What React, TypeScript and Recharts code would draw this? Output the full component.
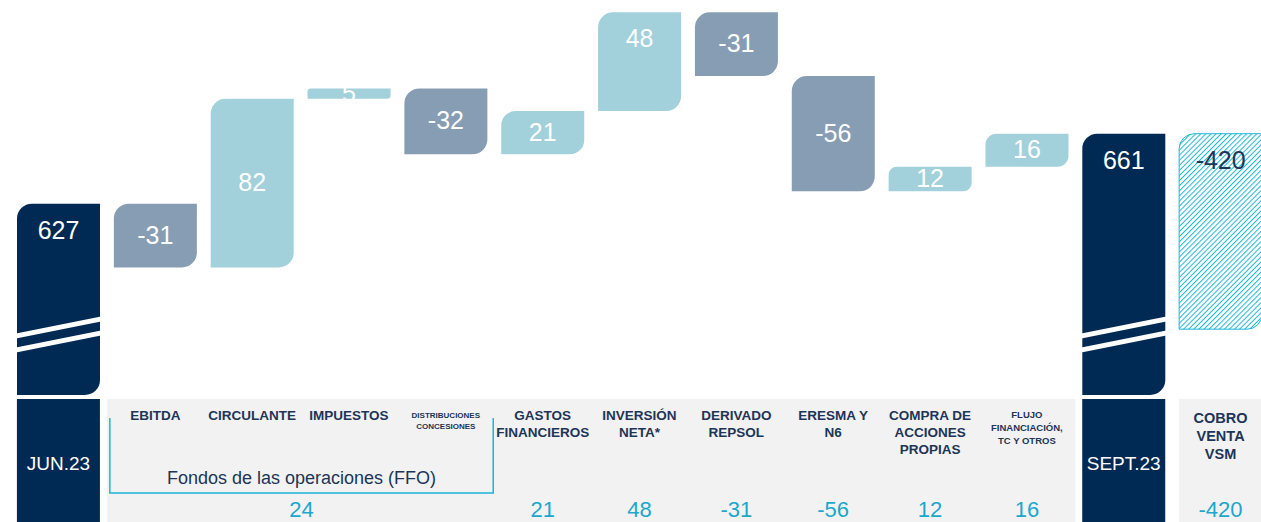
import { BarChart, Bar, XAxis, YAxis, LabelList } from 'recharts';

// Net debt bridge, JUN.23 -> SEPT.23
const categories = [
  'JUN.23',
  'EBITDA',
  'CIRCULANTE',
  'IMPUESTOS',
  'DISTRIBUCIONES CONCESIONES',
  'GASTOS FINANCIEROS',
  'INVERSIÓN NETA*',
  'DERIVADO REPSOL',
  'ERESMA Y N6',
  'COMPRA DE ACCIONES PROPIAS',
  'FLUJO FINANCIACIÓN, TC Y OTROS',
  'SEPT.23',
  'COBRO VENTA VSM',
];
const labelLines: string[][] = [
  ['JUN.23'],
  ['EBITDA'],
  ['CIRCULANTE'],
  ['IMPUESTOS'],
  ['DISTRIBUCIONES', 'CONCESIONES'],
  ['GASTOS', 'FINANCIEROS'],
  ['INVERSIÓN', 'NETA*'],
  ['DERIVADO', 'REPSOL'],
  ['ERESMA Y', 'N6'],
  ['COMPRA DE', 'ACCIONES', 'PROPIAS'],
  ['FLUJO', 'FINANCIACIÓN,', 'TC Y OTROS'],
  ['SEPT.23'],
  ['COBRO', 'VENTA', 'VSM'],
];
const openingDebt = 627;
const closingDebt = 661;
const deltas = [-31, 82, 5, -32, 21, 48, -31, -56, 12, 16];
const vsmCollection = -420;
const ffoTitle = 'Fondos de las operaciones (FFO)';
const ffoItems = 4; // EBITDA .. DISTRIBUCIONES make up the FFO

// the value axis is broken: visible window, and where the VSM bar is cut off
const axisFloor = 534;
const axisCeiling = 726;
const vsmCutOff = 566;

const CHART_W = 1269;
const CHART_H = 522;
const LEFT = 10;
const AXIS_H = 127;
const PLOT_BOTTOM = CHART_H - AXIS_H;
const BAND = (CHART_W - LEFT) / categories.length;
const BAR_W = 83;

const NAVY = '#002a54';
const UP = '#a2d1dc';
const DOWN = '#879db4';
const CYAN = '#1db5d6';
const TEXT = '#1d3557';
const NUM = '#1aa8cc';
const FONT = '"Liberation Sans", Arial, sans-serif';

type Kind = 'total' | 'up' | 'down' | 'hatch';
interface Row {
  name: string;
  range: [number, number];
  value: number;
  kind: Kind;
}

function buildRows(): Row[] {
  const out: Row[] = [{ name: categories[0], range: [axisFloor, openingDebt], value: openingDebt, kind: 'total' }];
  let running = openingDebt;
  deltas.forEach((d, i) => {
    const next = running + d;
    out.push({
      name: categories[i + 1],
      range: [Math.min(running, next), Math.max(running, next)],
      value: d,
      kind: d >= 0 ? 'up' : 'down',
    });
    running = next;
  });
  out.push({ name: categories[11], range: [axisFloor, closingDebt], value: closingDebt, kind: 'total' });
  out.push({ name: categories[12], range: [vsmCutOff, closingDebt], value: vsmCollection, kind: 'hatch' });
  return out;
}

const rows = buildRows();
const labelAtTop = new Set(['INVERSIÓN NETA*']);

// rounded top-left and bottom-right corners, the other two square
function leafPath(x: number, top: number, w: number, h: number) {
  const r = Math.min(15, h / 3, w / 2);
  return `M${x},${top + r} A${r},${r} 0 0 1 ${x + r},${top} L${x + w},${top} L${x + w},${top + h - r} A${r},${r} 0 0 1 ${x + w - r},${top + h} L${x},${top + h} Z`;
}

function BarShape(props: any) {
  const { x, y, width, height, index } = props;
  const row = rows[index];
  if (!row) return null;
  const top = Math.min(y, y + height);
  const h = Math.abs(height);
  const bottom = top + h;
  const d = leafPath(x, top, width, h);
  if (row.kind === 'hatch') {
    return (
      <g>
        <defs>
          <pattern id="vsmHatch" patternUnits="userSpaceOnUse" width="3.6" height="3.6" patternTransform="rotate(45)">
            <rect width="3.6" height="3.6" fill="#ffffff" />
            <line x1="0" y1="0" x2="0" y2="3.6" stroke={CYAN} strokeWidth="2" />
          </pattern>
        </defs>
        <path d={d} fill="url(#vsmHatch)" stroke={CYAN} strokeWidth={1} />
      </g>
    );
  }
  if (row.kind === 'total') {
    // axis-break marks near the foot of the stock bars
    const stripe = (l: number, r: number) =>
      `${x - 1},${bottom - l - 2.5} ${x + width + 1},${bottom - r - 2.5} ${x + width + 1},${bottom - r + 2.5} ${x - 1},${bottom - l + 2.5}`;
    return (
      <g>
        <path d={d} fill={NAVY} />
        <polygon points={stripe(59, 76)} fill="#ffffff" />
        <polygon points={stripe(45, 62)} fill="#ffffff" />
      </g>
    );
  }
  return <path d={d} fill={row.kind === 'up' ? UP : DOWN} />;
}

function ValueLabel(props: any) {
  const { x, y, width, height, index } = props;
  const row = rows[index];
  if (!row) return null;
  const top = Math.min(y, y + height);
  const h = Math.abs(height);
  const atTop = row.kind === 'total' || row.kind === 'hatch' || labelAtTop.has(row.name);
  const ty = atTop ? top + 35 : top + h / 2 + 8;
  return (
    <text
      x={x + width / 2}
      y={ty}
      textAnchor="middle"
      fontSize={25}
      fontFamily={FONT}
      fill={row.kind === 'hatch' ? TEXT : '#ffffff'}
    >
      {row.value}
    </text>
  );
}

function labelFont(i: number) {
  if (i === 4) return 8;
  if (i === 10) return 9.5;
  if (i === 12) return 14.5;
  return 13.5;
}

function AxisTick(props: any) {
  const { x, payload } = props;
  const i = categories.indexOf(payload.value);
  if (i < 0) return null;
  const half = BAND / 2;
  const boxTop = PLOT_BOTTOM + 4;
  const row = rows[i];

  if (row.kind === 'total') {
    return (
      <g>
        <rect x={x - BAR_W / 2} y={boxTop} width={BAR_W} height={CHART_H - boxTop} fill={NAVY} />
        <text x={x} y={470} textAnchor="middle" fontSize={19} fontFamily={FONT} fill="#ffffff">
          {labelLines[i][0]}
        </text>
      </g>
    );
  }

  const fs = labelFont(i);
  const lh = fs + 3.5;
  const firstY = (i === 12 ? 418 : 415) + fs * 0.36;
  const parts: any[] = [];

  if (i === 1) {
    const ffoValue = deltas.slice(0, ffoItems).reduce((a, b) => a + b, 0);
    const bx0 = x - half + 3;
    const bx1 = x + (ffoItems - 1) * BAND + half - 1;
    parts.push(<rect key="band" x={x - half} y={boxTop} width={BAND * 10} height={CHART_H - boxTop} fill="#f2f2f2" />);
    parts.push(
      <polyline
        key="bracket"
        points={`${bx0},418 ${bx0},493 ${bx1},493 ${bx1},418`}
        fill="none"
        stroke={CYAN}
        strokeWidth={1.5}
      />
    );
    parts.push(
      <text key="ffo" x={(bx0 + bx1) / 2} y={484} textAnchor="middle" fontSize={18} fontFamily={FONT} fill={TEXT}>
        {ffoTitle}
      </text>
    );
    parts.push(
      <text key="ffov" x={(bx0 + bx1) / 2} y={517} textAnchor="middle" fontSize={22} fontFamily={FONT} fill={NUM}>
        {ffoValue}
      </text>
    );
  }
  if (i === 12) {
    parts.push(
      <rect key="band" x={x - BAR_W / 2} y={boxTop} width={BAR_W / 2 + half} height={CHART_H - boxTop} fill="#f2f2f2" />
    );
  }
  labelLines[i].forEach((line, k) => {
    parts.push(
      <text
        key={`l${k}`}
        x={x}
        y={firstY + k * lh}
        textAnchor="middle"
        fontSize={fs}
        fontWeight={700}
        fontFamily={FONT}
        fill={TEXT}
      >
        {line}
      </text>
    );
  });
  if (i > ffoItems) {
    parts.push(
      <text key="num" x={x} y={517} textAnchor="middle" fontSize={22} fontFamily={FONT} fill={NUM}>
        {row.value}
      </text>
    );
  }
  return <g>{parts}</g>;
}

export default function App() {
  return (
    <div
      style={{
        position: 'absolute',
        left: 0,
        top: 0,
        width: 1261,
        height: 522,
        overflow: 'hidden',
        background: '#ffffff',
      }}
    >
      <BarChart
        width={CHART_W}
        height={CHART_H}
        data={rows}
        margin={{ top: 0, right: 0, left: LEFT, bottom: 0 }}
        barSize={BAR_W}
      >
        <XAxis
          dataKey="name"
          interval={0}
          height={AXIS_H}
          tickLine={false}
          axisLine={false}
          tickSize={0}
          tickMargin={0}
          tick={AxisTick}
        />
        <YAxis hide type="number" domain={[axisFloor, axisCeiling]} allowDataOverflow />
        <Bar dataKey="range" isAnimationActive={false} shape={BarShape}>
          <LabelList dataKey="range" content={ValueLabel} />
        </Bar>
      </BarChart>
    </div>
  );
}
